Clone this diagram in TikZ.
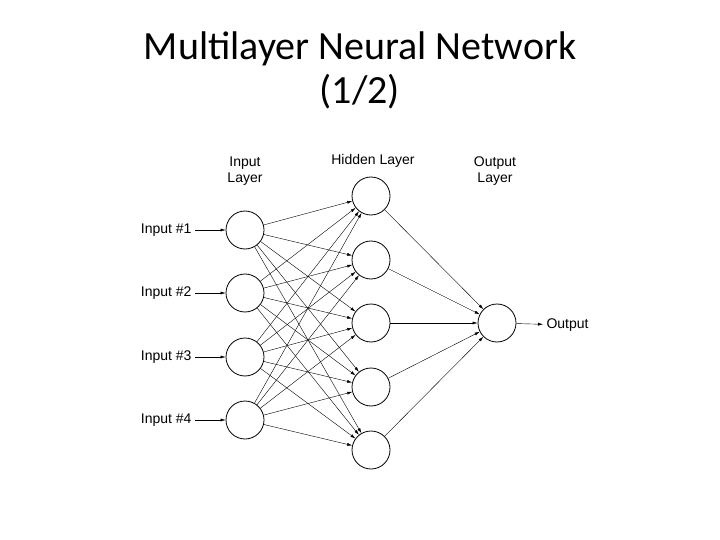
\documentclass[tikz,border=0pt]{standalone}
\usepackage{fontspec}
\setmainfont{Liberation Sans}
\newfontfamily\titlefont{Carlito}
\usetikzlibrary{arrows.meta}
\begin{document}
\begin{tikzpicture}[x=1pt,y=-1pt,
  neuron/.style={circle,draw,thick,minimum size=38pt,inner sep=0pt},
  conn/.style={-{Latex[length=5pt,width=3pt]},thin},
  lbl/.style={font=\fontsize{14}{16}\selectfont,align=center}]
\useasboundingbox (0,0) rectangle (720,540);
\node[font=\titlefont\fontsize{40}{44}\selectfont,align=center] (title) at (360,70) {Multilayer Neural Network\\(1/2)};
\node[lbl] (li) at (245,171) {Input\\Layer};
\node[lbl] (lh) at (373,161) {Hidden Layer};
\node[lbl] (lo) at (495,171) {Output\\Layer};
\foreach \i/\y in {1/230,2/293,3/357,4/420}{
  \node[neuron] (i\i) at (245,\y) {};
  \node[lbl,anchor=east] (t\i) at (195,\y) {Input \#\i};
  \draw[conn] (t\i) -- (i\i);
}
\foreach \j/\y in {1/196,2/260,3/323,4/387,5/450}
  \node[neuron] (h\j) at (371,\y) {};
\node[neuron] (o) at (497,323) {};
\node[lbl,anchor=west] (out) at (543,325) {Output};
\foreach \i in {1,...,4}
  \foreach \j in {1,...,5}
    \draw[conn] (i\i) -- (h\j);
\foreach \j in {1,...,5}
  \draw[conn] (h\j) -- (o);
\draw[conn] (o) -- (out);
\end{tikzpicture}
\end{document}
